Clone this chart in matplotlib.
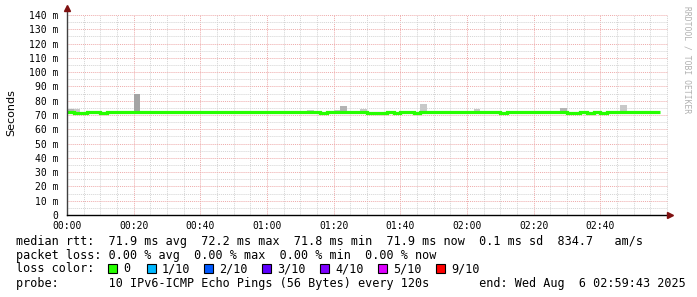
import matplotlib
matplotlib.use("Agg")
import matplotlib.pyplot as plt
import numpy as np
from matplotlib.patches import Rectangle

W, H = 697, 297
DPI = 100

# ---------------- data ----------------
step_minutes = 2
median_rtt = [72.3, 71.7, 71.7, 72.2, 72.2, 71.7, 72.2, 71.9, 71.9, 71.9,
              71.9, 71.9, 71.9, 71.9, 71.9, 71.9, 71.9, 71.9, 71.9, 71.9,
              71.9, 71.9, 71.9, 71.9, 71.9, 71.9, 71.9, 71.9, 71.9, 71.9,
              71.9, 71.9, 71.9, 71.9, 71.9, 71.9, 71.9, 71.9, 71.6, 71.9,
              72.0, 72.0, 72.0, 72.0, 72.0, 71.7, 71.7, 71.7, 72.0, 71.7,
              72.0, 72.0, 71.7, 72.0, 72.0, 72.0, 72.0, 72.0, 72.0, 72.0,
              72.0, 72.0, 72.0, 72.0, 72.0, 71.7, 72.0, 72.0, 72.0, 72.0,
              72.0, 72.0, 72.0, 72.0, 72.0, 71.7, 71.7, 72.0, 71.7, 72.0,
              71.7, 72.0, 72.0, 72.0, 72.0, 72.0, 72.0, 72.0, 72.0]

smoke_time_min = [0, 2, 20, 72, 80, 82, 88, 106, 122, 148, 166]
smoke_max_ms = [74.2, 73.9, 84.5, 73.6, 73.8, 76.3, 74.2, 77.7, 74.4, 75.1, 77.0]
smoke_shade = ["mid", "light", "dark", "light", "light", "mid",
               "light", "light", "light", "mid", "light"]

xtick_min = [0, 20, 40, 60, 80, 100, 120, 140, 160]
xtick_labels = ["00:00", "00:20", "00:40", "01:00", "01:20",
                "01:40", "02:00", "02:20", "02:40"]
ytick_vals = list(range(0, 150, 10))
ytick_labels = ["0"] + [f"{v} m" for v in range(10, 150, 10)]

loss_labels = ["0", "1/10", "2/10", "3/10", "4/10", "5/10", "9/10"]
loss_colors = ["#26ff00", "#00b8ff", "#0059ff", "#5e00ff", "#7e00ff", "#dd00ff", "#ff0000"]

line_rtt = "median rtt:  71.9 ms avg  72.2 ms max  71.8 ms min  71.9 ms now  0.1 ms sd  834.7   am/s"
line_loss = "packet loss: 0.00 % avg  0.00 % max  0.00 % min  0.00 % now"
line_probe = "probe:       10 IPv6-ICMP Echo Pings (56 Bytes) every 120s       end: Wed Aug  6 02:59:43 2025"

# ---------------- figure ----------------
fig = plt.figure(figsize=(W / DPI, H / DPI), dpi=DPI)
fig.patch.set_facecolor("white")

def fx(px):
    return px / W

def fy(py):
    return 1 - py / H

ax_left, ax_right, ax_top, ax_bottom = 67, 668, 15, 215
ax = fig.add_axes([fx(ax_left), fy(ax_bottom), (ax_right - ax_left) / W, (ax_bottom - ax_top) / H])
ax.set_facecolor("white")

px_per_min = 200.0 / 60.0
ax.set_xlim(0, (ax_right - ax_left) / px_per_min)
ax.set_ylim(0, 140)

# grid
ax.set_xticks(xtick_min)
ax.set_xticks(np.arange(0, 181, 5), minor=True)
ax.set_yticks(ytick_vals)
ax.set_yticks(np.arange(0, 141, 5), minor=True)
ax.set_axisbelow(True)
ax.grid(which="minor", color="#d4d4d4", linestyle=(0, (1, 1)), linewidth=0.7)
ax.grid(which="major", color="#eeaaaa", linestyle=(0, (1, 1)), linewidth=0.7)

mono = "DejaVu Sans Mono"
ax.set_xticklabels(xtick_labels, fontfamily=mono, fontsize=7)
ax.set_yticklabels(ytick_labels, fontfamily=mono, fontsize=7)
ax.tick_params(which="both", length=0)
ax.tick_params(axis="y", pad=6)
ax.tick_params(axis="x", pad=4)
for s in ax.spines.values():
    s.set_visible(False)

# smoke
times = np.arange(len(median_rtt)) * step_minutes
shade_color = {"light": "#c8c8c8", "mid": "#b4b4b4", "dark": "#a4a4a4"}
for t, mx, sh in zip(smoke_time_min, smoke_max_ms, smoke_shade):
    base = median_rtt[int(t // step_minutes)]
    ax.bar(t, mx - base, bottom=base, width=step_minutes, align="edge",
           color=shade_color[sh], linewidth=0, zorder=3)

# median line
edges = np.append(times, times[-1] + step_minutes)
ax.stairs(median_rtt, edges, color="#26ff00", linewidth=2.3, baseline=None, zorder=4)

# axes lines with arrows
ax.plot([0, 0], [0, 1 + 6 / 200], transform=ax.transAxes, color="#404040",
        linewidth=1, clip_on=False, zorder=5)
ax.plot([0, 1], [0, 0], transform=ax.transAxes, color="#000000",
        linewidth=1, clip_on=False, zorder=5)
ax.plot([0], [1 + 7 / 200], transform=ax.transAxes, marker="^", markersize=4,
        color="#7f1010", clip_on=False, zorder=6)
ax.plot([1 + 2 / 601], [0], transform=ax.transAxes, marker=">", markersize=4,
        color="#7f1010", clip_on=False, zorder=6)

# y label
fig.text(fx(11), fy(113), "Seconds", rotation=90, ha="center", va="center",
         fontsize=8, fontfamily="DejaVu Sans", color="#000000")

# watermark
fig.text(fx(687), fy(60), "RRDTOOL / TOBI OETIKER", rotation=270, ha="center",
         va="center", fontsize=5.8, fontfamily=mono, color="#b0b0b0")

# legend text
fs = 8.45
fig.text(fx(16), fy(245), line_rtt, fontfamily=mono, fontsize=fs, va="baseline", ha="left")
fig.text(fx(16), fy(259), line_loss, fontfamily=mono, fontsize=fs, va="baseline", ha="left")
fig.text(fx(16), fy(272.5), "loss color:", fontfamily=mono, fontsize=fs, va="baseline", ha="left")
fig.text(fx(16), fy(287), line_probe, fontfamily=mono, fontsize=fs, va="baseline", ha="left")

box_x = [108, 147, 204, 262, 320, 378, 436]
for bx, lab, col in zip(box_x, loss_labels, loss_colors):
    fig.patches.append(Rectangle((fx(bx), fy(273)), 9 / W, 9 / H, transform=fig.transFigure,
                                 facecolor=col, edgecolor="black", linewidth=0.8))
    fig.text(fx(bx + 15), fy(272.5), lab, fontfamily=mono, fontsize=fs, va="baseline", ha="left")

fig.savefig("out.png", dpi=DPI, facecolor="white")
